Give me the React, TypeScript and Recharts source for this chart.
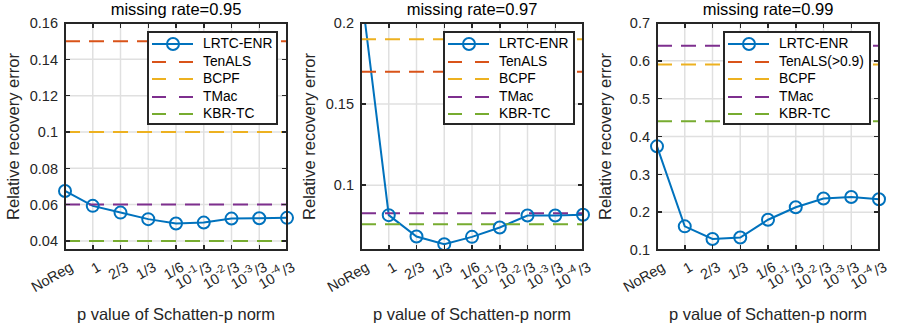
import React from 'react';
import {
  LineChart,
  Line,
  XAxis,
  YAxis,
  CartesianGrid,
  ReferenceLine,
  Legend,
} from 'recharts';

// p values on the x axis
const categories = ['NoReg', '1', '2/3', '1/3', '1/6', '10^{-1}/3', '10^{-2}/3', '10^{-3}/3', '10^{-4}/3'];

// LRTC-ENR relative recovery error per missing rate
const lrtc095 = [0.0675, 0.0593, 0.0556, 0.052, 0.0496, 0.0501, 0.0523, 0.0525, 0.0527];
const lrtc097 = [0.221, 0.0815, 0.0683, 0.0636, 0.0681, 0.0739, 0.0813, 0.0813, 0.0817];
const lrtc099 = [0.374, 0.1625, 0.129, 0.133, 0.18, 0.213, 0.236, 0.24, 0.234];

// baselines (constant over p)
const methods = ['TenALS', 'BCPF', 'TMac', 'KBR-TC'];
const methodColors = ['#D95319', '#EDB120', '#7E2F8E', '#77AC30'];
const baseline095 = [0.15, 0.1, 0.06, 0.04];
const baseline097 = [0.17, 0.19, 0.0827, 0.0759];
const baseline099 = [null, 0.59, 0.64, 0.44]; // TenALS is above 0.9, off the axis

const yTicks095 = [0.04, 0.06, 0.08, 0.1, 0.12, 0.14, 0.16];
const yTicks097 = [0.1, 0.15, 0.2];
const yTicks099 = [0.1, 0.2, 0.3, 0.4, 0.5, 0.6, 0.7];

const BLUE = '#0072BD';
const AXIS = '#262626';
const FONT = '"Liberation Sans", Arial, Helvetica, sans-serif';
const DASH = '15 9';

// chart geometry (one panel)
const W = 296;
const H = 323;
const PLOT = { left: 65, top: 23, right: 9, bottom: 73 };
const plotW = W - PLOT.left - PLOT.right;
const plotH = H - PLOT.top - PLOT.bottom;

const panels = [
  { rate: '0.95', values: lrtc095, baselines: baseline095, ticks: yTicks095, domain: [0.035, 0.16], tenals: 'TenALS', legendLeft: 147, legendWidth: 131 },
  { rate: '0.97', values: lrtc097, baselines: baseline097, ticks: yTicks097, domain: [0.06, 0.2], tenals: 'TenALS', legendLeft: 147, legendWidth: 132 },
  { rate: '0.99', values: lrtc099, baselines: baseline099, ticks: yTicks099, domain: [0.1, 0.7], tenals: 'TenALS(>0.9)', legendLeft: 131, legendWidth: 148 },
];

function BottomTick({ x, y, payload }: any) {
  const label = String(payload.value);
  const m = label.match(/^10\^\{(-?\d+)\}(.*)$/);
  const ax = x + 9;
  const ay = y + 20;
  return (
    <text
      x={ax}
      y={ay}
      transform={`rotate(-30 ${ax} ${ay})`}
      textAnchor="end"
      fontSize={14.5}
      fill={AXIS}
      fontFamily={FONT}
    >
      {m ? (
        <>
          10
          <tspan dy={-7} fontSize={11}>{m[1]}</tspan>
          <tspan dy={7} dx={1}>{m[2]}</tspan>
        </>
      ) : (
        label
      )}
    </text>
  );
}

function LeftTick({ x, y, payload }: any) {
  return (
    <text x={x - 7} y={y} dy="0.36em" textAnchor="end" fontSize={14.5} fill={AXIS} fontFamily={FONT}>
      {String(payload.value)}
    </text>
  );
}

// axes box with inward ticks on all four sides, laid over the plot area
function AxesFrame({ ticks, domain }: { ticks: number[]; domain: number[] }) {
  const n = categories.length;
  const tickY = (t: number) => PLOT.top + plotH * (1 - (t - domain[0]) / (domain[1] - domain[0]));
  const mark = (left: number, top: number, w: number, h: number, key: string) => (
    <div key={key} style={{ position: 'absolute', left, top, width: w, height: h, background: AXIS }} />
  );
  return (
    <div style={{ position: 'absolute', left: 0, top: 0, width: W, height: H, pointerEvents: 'none' }}>
      {categories.map((c, i) => {
        const tx = PLOT.left + (plotW * i) / (n - 1);
        return (
          <React.Fragment key={c}>
            {mark(tx - 0.75, PLOT.top, 1.5, 5, 'top')}
            {mark(tx - 0.75, PLOT.top + plotH - 5, 1.5, 5, 'bottom')}
          </React.Fragment>
        );
      })}
      {ticks.map((t) => (
        <React.Fragment key={t}>
          {mark(PLOT.left, tickY(t) - 0.75, 5, 1.5, 'left')}
          {mark(PLOT.left + plotW - 5, tickY(t) - 0.75, 5, 1.5, 'right')}
        </React.Fragment>
      ))}
      <div
        style={{
          position: 'absolute',
          left: PLOT.left - 1,
          top: PLOT.top - 1,
          width: plotW + 2,
          height: plotH + 2,
          boxSizing: 'border-box',
          border: `2px solid ${AXIS}`,
        }}
      />
    </div>
  );
}

// legend drawn with plain html
function LegendBox({ names, width }: { names: string[]; width: number }) {
  const rowY = (i: number) => 11 + i * 17.5;
  const textStyle = (i: number): React.CSSProperties => ({
    position: 'absolute',
    left: 54,
    top: rowY(i) - 8,
    lineHeight: '16px',
    fontSize: 13.8,
    fontFamily: FONT,
    color: '#000',
    whiteSpace: 'nowrap',
  });
  return (
    <div
      style={{
        position: 'relative',
        boxSizing: 'border-box',
        width,
        height: 94,
        border: `2px solid ${AXIS}`,
        background: '#fff',
      }}
    >
      <div style={{ position: 'absolute', left: 3, top: rowY(0) - 1, width: 41, height: 2, background: BLUE }} />
      <div
        style={{
          position: 'absolute',
          left: 16.5,
          top: rowY(0) - 7,
          width: 14,
          height: 14,
          boxSizing: 'border-box',
          border: `2px solid ${BLUE}`,
          borderRadius: '50%',
        }}
      />
      <div style={textStyle(0)}>LRTC-ENR</div>
      {names.map((name, i) => (
        <React.Fragment key={name}>
          <div
            style={{
              position: 'absolute',
              left: 3,
              top: rowY(i + 1) - 1,
              width: 41,
              height: 2,
              background: `repeating-linear-gradient(to right, ${methodColors[i]} 0px, ${methodColors[i]} 14px, transparent 14px, transparent 27px)`,
            }}
          />
          <div style={textStyle(i + 1)}>{name}</div>
        </React.Fragment>
      ))}
    </div>
  );
}

function Panel({ p }: { p: (typeof panels)[number] }) {
  const data = categories.map((c, i) => ({ p: c, err: p.values[i] }));
  const names = [p.tenals, ...methods.slice(1)];
  return (
    <div style={{ position: 'relative', width: W, height: H }}>
      <div
        style={{
          position: 'absolute',
          left: PLOT.left,
          top: 0.5,
          width: plotW,
          textAlign: 'center',
          fontFamily: FONT,
          fontSize: 16.5,
          lineHeight: '16.5px',
          color: '#000',
          whiteSpace: 'nowrap',
        }}
      >
        {`missing rate=${p.rate}`}
      </div>
      <LineChart width={W} height={H} data={data} margin={{ top: PLOT.top, right: PLOT.right, left: 0, bottom: 0 }}>
        <CartesianGrid stroke="#e0e0e0" strokeWidth={1.5} />
        <XAxis
          dataKey="p"
          height={PLOT.bottom}
          interval={0}
          tickSize={0}
          tickMargin={0}
          tick={BottomTick}
          stroke={AXIS}
          axisLine={{ stroke: AXIS, strokeWidth: 2 }}
          label={(props: any) => (
            <text x={PLOT.left + plotW / 2} y={320} textAnchor="middle" fontSize={16.5} fill={AXIS} fontFamily={FONT}>
              p value of Schatten-p norm
            </text>
          )}
        />
        <YAxis
          type="number"
          domain={p.domain}
          ticks={p.ticks}
          allowDataOverflow
          interval={0}
          width={PLOT.left}
          tickSize={0}
          tickMargin={0}
          tick={LeftTick}
          stroke={AXIS}
          axisLine={{ stroke: AXIS, strokeWidth: 2 }}
          label={(props: any) => (
            <text
              x={19}
              y={136.5}
              transform="rotate(-90 19 136.5)"
              textAnchor="middle"
              fontSize={16.5}
              fill={AXIS}
              fontFamily={FONT}
            >
              Relative recovery error
            </text>
          )}
        />
        <Line
          dataKey="err"
          stroke={BLUE}
          strokeWidth={2}
          dot={{ r: 6, strokeWidth: 2, fill: 'none', stroke: BLUE }}
          activeDot={false}
          isAnimationActive={false}
        />
        {p.baselines.map((v, i) =>
          v == null ? null : (
            <ReferenceLine key={methods[i]} y={v} stroke={methodColors[i]} strokeWidth={2} strokeDasharray={DASH} />
          )
        )}
        <Legend
          layout="vertical"
          align="center"
          verticalAlign="middle"
          wrapperStyle={{ left: p.legendLeft, top: 31, width: p.legendWidth, height: 94 }}
          content={() => <LegendBox names={names} width={p.legendWidth} />}
        />
      </LineChart>
      <AxesFrame ticks={p.ticks} domain={p.domain} />
    </div>
  );
}

export default function App() {
  return (
    <div style={{ position: 'absolute', left: 0, top: 0, width: 900, height: 323, background: '#fff' }}>
      {panels.map((p, i) => (
        <div key={p.rate} style={{ position: 'absolute', left: i * W, top: 0 }}>
          <Panel p={p} />
        </div>
      ))}
    </div>
  );
}
